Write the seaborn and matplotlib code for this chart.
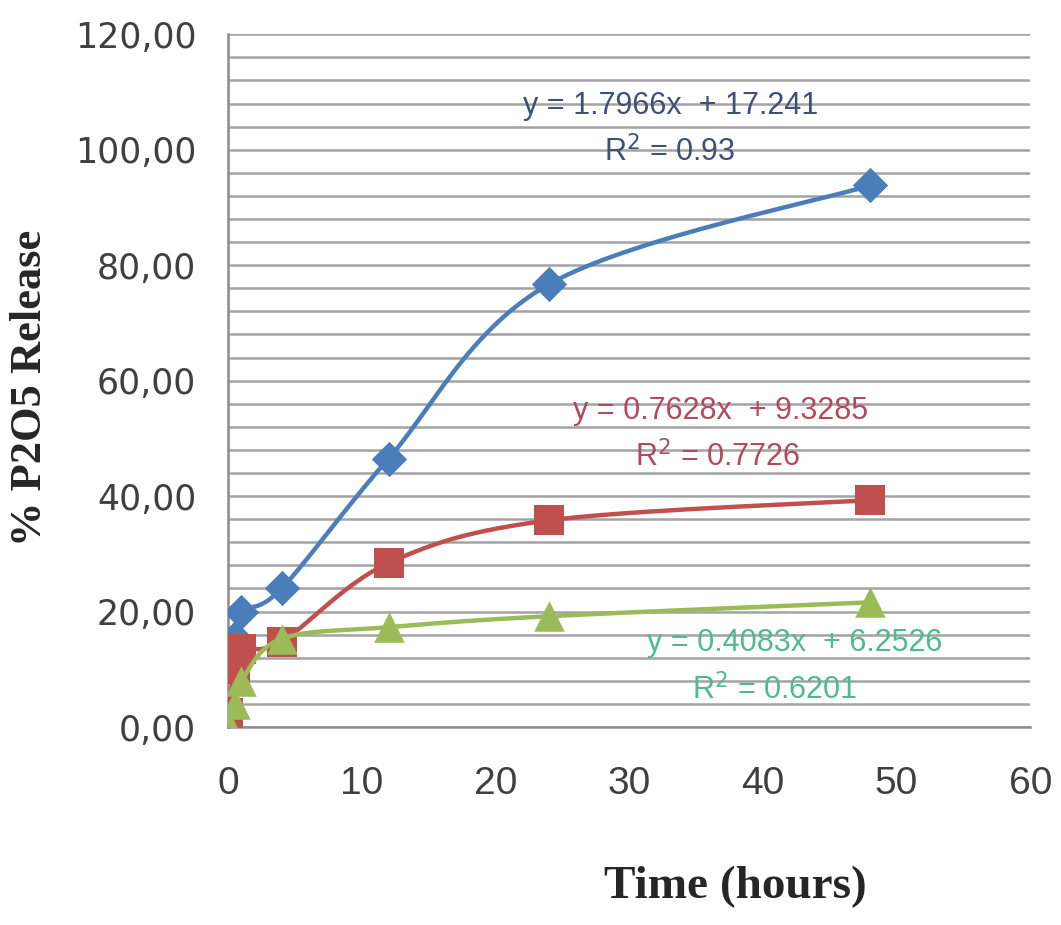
import numpy as np
import pandas as pd
import matplotlib
matplotlib.use("Agg")
import matplotlib.pyplot as plt
from matplotlib.ticker import MultipleLocator, FuncFormatter
import seaborn as sns

# dados
tempo = [0, 0.5, 1, 4, 12, 24, 48]
azul = [14.0, 15.5, 20.0, 24.0, 46.5, 76.7, 93.8]
vermelho = [2.5, 10.0, 13.5, 14.8, 28.4, 35.8, 39.3]
verde = [0.5, 4.0, 8.0, 15.3, 17.3, 19.2, 21.6]

eq_azul = ["y = 1.7966x  + 17.241", "R$^{2}$ = 0.93"]
eq_vermelho = ["y = 0.7628x  + 9.3285", "R$^{2}$ = 0.7726"]
eq_verde = ["y = 0.4083x  + 6.2526", "R$^{2}$ = 0.6201"]

cores = {"azul": "#4a7ebb", "vermelho": "#c0504d", "verde": "#9bbb59"}
cores_txt = {"azul": "#3f4f75", "vermelho": "#b24a5c", "verde": "#4dbb8c"}

sns.set_style("white")
plt.rcParams["font.family"] = ["DejaVu Sans"]

fig = plt.figure(figsize=(10.61, 9.25), dpi=100)
ax = fig.add_axes([0.215, 0.214, 0.756, 0.749])
ax.set_xlim(0, 60)
ax.set_ylim(0, 120)


def suave(x, y, n=30):
    # curva suavizada tipo Excel (bezier / catmull-rom em espaco de tela)
    sx, sy = 60.0 * 0.75, 120.0
    p = np.column_stack([np.asarray(x) / sx, np.asarray(y) / sy])
    pts = [p[0]] + list(p) + [p[-1]]
    out = []
    for i in range(1, len(pts) - 2):
        p0, p1, p2, p3 = pts[i - 1], pts[i], pts[i + 1], pts[i + 2]
        c1 = p1 + (p2 - p0) / 6.0
        c2 = p2 - (p3 - p1) / 6.0
        t = np.linspace(0, 1, n)[:, None]
        b = ((1 - t) ** 3) * p1 + 3 * ((1 - t) ** 2) * t * c1 + 3 * (1 - t) * t ** 2 * c2 + t ** 3 * p2
        out.append(b)
    c = np.vstack(out)
    return c[:, 0] * sx, c[:, 1] * sy


series = [
    ("azul", azul, "D", 18),
    ("vermelho", vermelho, "s", 22),
    ("verde", verde, "^", 22),
]
for z, (nome, vals, mk, ms) in enumerate(series):
    cx, cy = suave(tempo, vals)
    ax.plot(cx, cy, color=cores[nome], lw=3.2, zorder=3 + 2 * z, solid_capstyle="round")
    df = pd.DataFrame({"t": tempo, "v": vals})
    sns.scatterplot(data=df, x="t", y="v", marker=mk, s=ms ** 2, color=cores[nome],
                    edgecolor=cores[nome], linewidth=0, ax=ax, zorder=4 + 2 * z, legend=False)

# grade horizontal a cada 4
ax.yaxis.set_major_locator(MultipleLocator(20))
ax.yaxis.set_minor_locator(MultipleLocator(4))
ax.xaxis.set_major_locator(MultipleLocator(10))
ax.grid(which="both", axis="y", color="#a3a3a3", lw=1.8)
ax.grid(False, axis="x")
ax.set_axisbelow(True)

for s in ["top", "right"]:
    ax.spines[s].set_visible(False)
for s in ["left", "bottom"]:
    ax.spines[s].set_color("#8c8c8c")
    ax.spines[s].set_linewidth(1.8)

ax.yaxis.set_major_formatter(FuncFormatter(lambda v, p: f"{v:.2f}".replace(".", ",")))
ax.tick_params(axis="y", which="major", direction="out", length=10, width=1.5, color="#8c8c8c",
               pad=13, labelsize=25, labelcolor="#404040")
ax.tick_params(axis="y", which="minor", length=0)
ax.tick_params(axis="x", which="major", direction="out", length=8, width=1.5, color="#8c8c8c",
               pad=20, labelsize=28, labelcolor="#404040")
for lb in ax.get_xticklabels():
    lb.set_fontfamily(["Liberation Sans"])

ax.set_xlabel("Time (hours)", fontsize=34, fontweight="bold", family="Liberation Serif")
ax.xaxis.set_label_coords(0.632, -0.2)
ax.set_ylabel("% P2O5 Release", fontsize=32, fontweight="bold", family="Liberation Serif")
ax.yaxis.set_label_coords(-0.222, 0.49)

txt_kw = dict(ha="center", va="center", fontsize=22, family="Liberation Sans", zorder=10)
ax.text(33.1, 107.6, eq_azul[0], color=cores_txt["azul"], **txt_kw)
ax.text(33.0, 99.5, eq_azul[1], color=cores_txt["azul"], **txt_kw)
ax.text(36.8, 54.8, eq_vermelho[0], color=cores_txt["vermelho"], **txt_kw)
ax.text(36.6, 46.7, eq_vermelho[1], color=cores_txt["vermelho"], **txt_kw)
ax.text(42.4, 14.5, eq_verde[0], color=cores_txt["verde"], **txt_kw)
ax.text(40.9, 6.4, eq_verde[1], color=cores_txt["verde"], **txt_kw)

fig.savefig("out.png", dpi=100)
